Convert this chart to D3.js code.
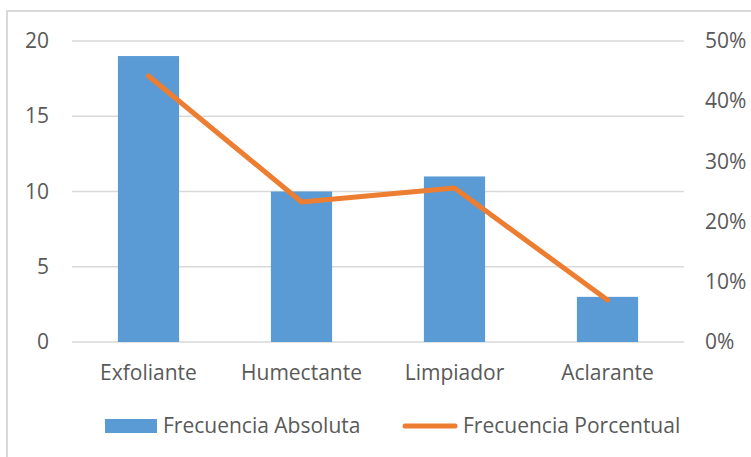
<!DOCTYPE html>
<html>
<head>
<meta charset="utf-8">
<script src="https://cdn.jsdelivr.net/npm/d3@7"></script>
<style>
  html, body { margin: 0; padding: 0; background: #fff; }
  svg { display: block; }
  text { font-family: "Open Sans", sans-serif; fill: #595959; }
</style>
</head>
<body>
<svg id="chart" width="751" height="457"></svg>
<script>
const categories = ["Exfoliante", "Humectante", "Limpiador", "Aclarante"];
const absoluta = [19, 10, 11, 3];
const porcentual = [0.4419, 0.2326, 0.2558, 0.0698];
const leftTicks = [0, 5, 10, 15, 20];
const rightTicks = [0, 0.1, 0.2, 0.3, 0.4, 0.5];
const seriesNames = ["Frecuencia Absoluta", "Frecuencia Porcentual"];

const W = 751, H = 457;
const FS = "21px";
const plot = { left: 72, right: 684, top: 41, bottom: 342 };
const svg = d3.select("#chart");

// frame
svg.append("rect")
  .attr("x", 7).attr("y", 11)
  .attr("width", W + 10).attr("height", H + 10)
  .attr("fill", "none").attr("stroke", "#d9d9d9").attr("stroke-width", 2);

const x = d3.scaleBand().domain(categories)
  .range([plot.left, plot.right]).paddingInner(0.6).paddingOuter(0.3);
const yL = d3.scaleLinear().domain([0, 20]).range([plot.bottom, plot.top]);
const yR = d3.scaleLinear().domain([0, 0.5]).range([plot.bottom, plot.top]);

// gridlines
svg.append("g").selectAll("line").data(leftTicks).join("line")
  .attr("x1", plot.left).attr("x2", plot.right)
  .attr("y1", d => yL(d)).attr("y2", d => yL(d))
  .attr("stroke", "#d9d9d9").attr("stroke-width", 1.3);

// left axis
const gl = svg.append("g").attr("transform", `translate(${plot.left},0)`)
  .call(d3.axisLeft(yL).tickValues(leftTicks).tickSize(0).tickPadding(23));
gl.select(".domain").remove();
gl.selectAll("text").style("font-family", "Open Sans").style("font-size", FS).attr("fill", "#595959");

// right axis
const gr = svg.append("g").attr("transform", `translate(${plot.right},0)`)
  .call(d3.axisRight(yR).tickValues(rightTicks).tickSize(0).tickPadding(21).tickFormat(d3.format(".0%")));
gr.select(".domain").remove();
gr.selectAll("text").style("font-family", "Open Sans").style("font-size", FS).attr("fill", "#595959");

// bars
svg.append("g").selectAll("rect").data(categories).join("rect")
  .attr("x", d => x(d)).attr("width", x.bandwidth())
  .attr("y", (d, i) => yL(absoluta[i]))
  .attr("height", (d, i) => yL(0) - yL(absoluta[i]))
  .attr("fill", "#5b9bd5");

// line
const line = d3.line()
  .x((d, i) => x(categories[i]) + x.bandwidth() / 2)
  .y(d => yR(d));
svg.append("path").datum(porcentual)
  .attr("d", line).attr("fill", "none")
  .attr("stroke", "#ed7d31").attr("stroke-width", 5)
  .attr("stroke-linecap", "round").attr("stroke-linejoin", "round");

// bottom axis labels
const gb = svg.append("g").attr("transform", `translate(0,${plot.bottom})`)
  .call(d3.axisBottom(x).tickSize(0).tickPadding(0));
gb.select(".domain").remove();
gb.selectAll("text").style("font-family", "Open Sans").style("font-size", FS)
  .attr("fill", "#595959").attr("y", 38).attr("dy", 0);

// legend
const lg = svg.append("g");
lg.append("rect").attr("x", 105).attr("y", 419).attr("width", 52).attr("height", 14).attr("fill", "#5b9bd5");
lg.append("text").attr("x", 163).attr("y", 433).style("font-size", FS).text(seriesNames[0]);
lg.append("line").attr("x1", 405).attr("x2", 455).attr("y1", 426).attr("y2", 426)
  .attr("stroke", "#ed7d31").attr("stroke-width", 5).attr("stroke-linecap", "round");
lg.append("text").attr("x", 463).attr("y", 433).style("font-size", FS).text(seriesNames[1]);
</script>
</body>
</html>
